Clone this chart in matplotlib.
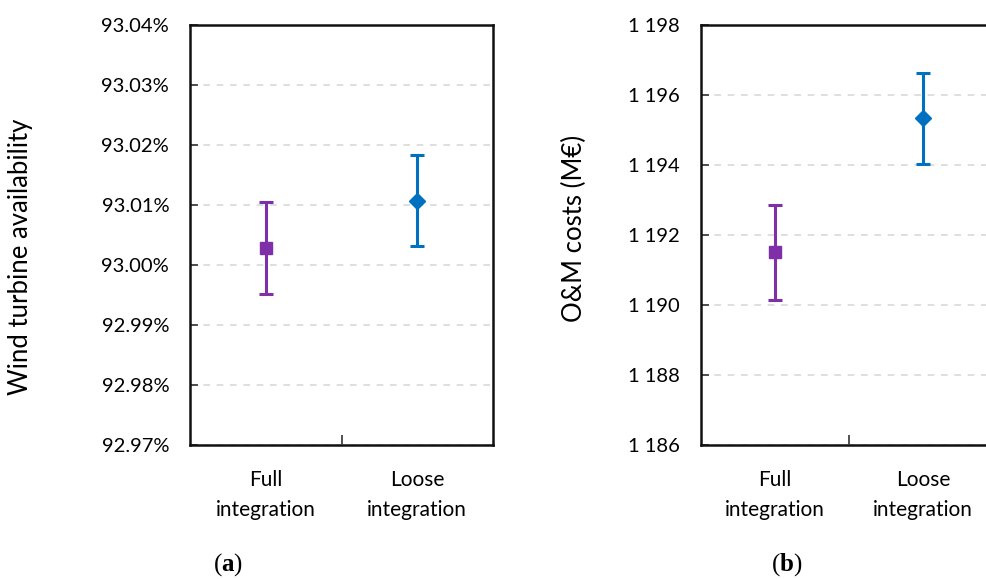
import matplotlib
matplotlib.use("Agg")
import matplotlib.pyplot as plt
from matplotlib.ticker import FuncFormatter, MultipleLocator

plt.rcParams['font.family'] = ['Lato', 'DejaVu Sans']
plt.rcParams['mathtext.fontset'] = 'custom'
plt.rcParams['mathtext.rm'] = 'Liberation Serif'
plt.rcParams['mathtext.bf'] = 'Liberation Serif:bold'

categories = ["Full\nintegration", "Loose\nintegration"]
avail_mean = [93.0028, 93.0107]
avail_err = [0.0077, 0.0076]
cost_mean = [1191.51, 1195.34]
cost_err = [1.36, 1.30]
colors = ["#7F2FA8", "#0070C0"]
markers = ["s", "D"]
marker_sizes = [9, 8]

W, H = 987, 579
fig = plt.figure(figsize=(W / 100, H / 100), dpi=100)

def axrect(x0, y0, x1, y1):
    return [x0 / W, 1 - y1 / H, (x1 - x0) / W, (y1 - y0) / H]

ax1 = fig.add_axes(axrect(190, 25, 493, 445))
ax2 = fig.add_axes(axrect(701, 25, 997, 445))

def style(ax, means, errs, ylim, step, fmt, ylabel, label_x, label_y):
    for i, (m, e) in enumerate(zip(means, errs)):
        ax.errorbar(i, m, yerr=e, fmt=markers[i], color=colors[i], ms=marker_sizes[i],
                    elinewidth=2.2, capsize=5, capthick=2.2, zorder=3)
    ax.set_xlim(-0.5, 1.5)
    ax.set_ylim(*ylim)
    ax.yaxis.set_major_locator(MultipleLocator(step))
    ax.yaxis.set_major_formatter(FuncFormatter(fmt))
    ax.set_xticks([0.5], minor=False)
    ax.set_xticklabels([])
    ax.set_xticks([0, 1], minor=True)
    ax.set_xticklabels(categories, minor=True)
    ax.tick_params(axis='x', which='major', direction='in', length=7, width=1.2, color='#333333')
    ax.tick_params(axis='x', which='minor', length=0, pad=18, labelsize=15)
    ax.tick_params(axis='y', direction='in', length=6, width=1.2, labelsize=14.5, pad=15, color='#333333')
    for lab in ax.get_xticklabels(minor=True):
        lab.set_linespacing(1.65)
    ax.grid(axis='y', color='#D9D9D9', linestyle=(0, (4, 4)), linewidth=1.2)
    ax.set_axisbelow(True)
    for s in ax.spines.values():
        s.set_linewidth(1.8)
        s.set_color('#111111')
    ax.set_ylabel(ylabel, fontsize=18.5)
    ax.yaxis.set_label_coords(label_x / W, 1 - label_y / H, transform=fig.transFigure)

style(ax1, avail_mean, avail_err, (92.97, 93.04), 0.01,
      lambda v, p: f"{v:.2f}%", "Wind turbine availability", 33, 257)
style(ax2, cost_mean, cost_err, (1186, 1198), 2,
      lambda v, p: f"{int(round(v)):,}".replace(",", " "), "O&M costs (M€)", 587, 228)

fig.text(228 / W, 1 - 565 / H, r'$\mathrm{(}\mathbf{a}\mathrm{)}$', fontsize=18, ha='center', va='center')
fig.text(787 / W, 1 - 565 / H, r'$\mathrm{(}\mathbf{b}\mathrm{)}$', fontsize=18, ha='center', va='center')

fig.savefig("out.png", dpi=100)
